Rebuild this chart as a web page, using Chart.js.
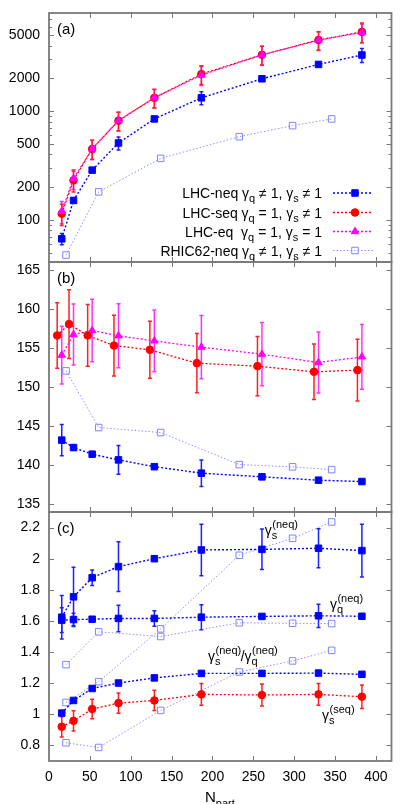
<!DOCTYPE html>
<html><head><meta charset="utf-8">
<script src="https://cdn.jsdelivr.net/npm/chart.js@4.4.1/dist/chart.umd.min.js"></script>
<style>
html,body{margin:0;padding:0;background:#fff;}
#wrap{position:relative;width:415px;height:804px;overflow:hidden;background:#fff;}
canvas{position:absolute;left:0;}
</style></head><body>
<div id="wrap">
<canvas id="cA" width="415" height="270" style="top:0px"></canvas>
<canvas id="cB" width="415" height="265" style="top:255px"></canvas>
<canvas id="cC" width="415" height="299" style="top:505px"></canvas>
</div>
<script>
// ---------- data ----------
const npartLHC     = [15.6, 30.0, 52.8, 85.0, 128.9, 186.4, 260.5, 329.7, 382.8];
const npartLHCseqB = [10.0, 24.5, 47.3, 79.5, 123.4, 180.9, 255.0, 324.2, 377.3];
const npartRHIC    = [20.8, 60.8, 136.6, 232.8, 298.0, 345.8];

// panel (a)
const neqA    = [67, 151, 287, 510, 849, 1327, 1986, 2692, 3288];
const errNeqA = [8, 0, 0, 70, 0, 180, 0, 0, 480];
const seqA    = [114, 231, 449, 818, 1327, 2193, 3303, 4515, 5360];
const errSeqA = [25, 50, 90, 160, 260, 430, 650, 870, 1100];
const eqA     = [120, 240, 450, 820, 1330, 2150, 3300, 4500, 5300];
const errEqA  = [28, 50, 90, 160, 260, 430, 650, 880, 1050];
const rhicA   = [47.5, 181, 368, 583, 736, 849];

// panel (b)
const neqB    = [143.2, 142.25, 141.4, 140.67, 139.8, 138.97, 138.5, 138.07, 137.9];
const errNeqB = [2.0, 0.3, 0, 1.85, 0, 1.7, 0, 0, 0];
const seqB    = [156.6, 158.05, 156.6, 155.3, 154.76, 153.05, 152.67, 151.94, 152.16];
const errSeqB = [4.2, 4.4, 3.95, 3.9, 3.65, 3.8, 3.8, 3.55, 3.95];
const eqB     = [154.08, 156.72, 157.23, 156.55, 155.9, 155.1, 154.2, 153.13, 153.86];
const errEqB  = [3.7, 3.9, 4.0, 4.1, 3.95, 4.05, 4.05, 3.9, 4.15];
const rhicB   = [152.07, 144.81, 144.17, 140.07, 139.78, 139.43];

// panel (c)
const gsNeqC     = [1.624, 1.755, 1.878, 1.949, 2.0, 2.056, 2.06, 2.067, 2.052];
const errGsNeqC  = [0.14, 0.19, 0.05, 0.16, 0, 0.165, 0.13, 0.125, 0.17];
const gqNeqC     = [1.605, 1.609, 1.611, 1.616, 1.616, 1.624, 1.629, 1.633, 1.63];
const errGqNeqC  = [0.08, 0.04, 0, 0.085, 0.05, 0.08, 0, 0.075, 0];
const ratioNeqC  = [1.008, 1.089, 1.166, 1.201, 1.234, 1.263, 1.263, 1.265, 1.257];
const gsSeqC     = [0.920, 0.958, 1.034, 1.072, 1.089, 1.128, 1.124, 1.128, 1.113];
const errGsSeqC  = [0.065, 0.065, 0.062, 0.065, 0.065, 0.07, 0.07, 0.07, 0.075];
const gsRhicC    = [1.076, 1.21, 1.549, 2.022, 2.131, 2.236];
const gqRhicC    = [1.319, 1.53, 1.50, 1.588, 1.585, 1.583];
const ratioRhicC = [0.817, 0.787, 1.025, 1.272, 1.343, 1.411];

// ticks
const xTicks  = [0, 50, 100, 150, 200, 250, 300, 350, 400];
const yTicksA = [100, 200, 500, 1000, 2000, 5000];
const yMinorA = [50,60,70,80,90,300,400,600,700,800,900,3000,4000,6000,7000,8000];
const yTicksB = [135, 140, 145, 150, 155, 160, 165];
const yTicksC = [0.8, 1.0, 1.2, 1.4, 1.6, 1.8, 2.0, 2.2];

const legendRows = [
  ['LHC-neq γ','q',' ≠ 1, γ','s',' ≠ 1'],
  ['LHC-seq γ','q',' = 1, γ','s',' ≠ 1'],
  ['LHC-eq  γ','q',' = 1, γ','s',' = 1'],
  ['RHIC62-neq γ','q',' ≠ 1, γ','s',' ≠ 1']
];

// ---------- styles ----------
const FONT = '"Liberation Sans", Arial, Helvetica, sans-serif';
const ST = {
  neq:  {color:'#0000ff', err:'#2020ff', style:'rect', r:4.6, fill:'#0000ff', lw:1.4, dash:[2,2]},
  seq:  {color:'#ff0000', err:'#ff2020', style:'circle', r:3.8, fill:'#ff0000', lw:1.3, dash:[2,2]},
  eq:   {color:'#ff00ff', err:'#ff30ff', style:'triangle', r:4.3, fill:'#ff00ff', lw:1.3, dash:[2,2]},
  rhic: {color:'#8484ff', err:'#8484ff', style:'rect', r:4.6, fill:'rgba(0,0,0,0)', lw:0.9, dash:[1.5,2]}
};
function pts(xs, ys){ return ys.map((y,i)=>({x:xs[i], y:y})); }
function ds(label, xs, ys, st, errs){
  return {label, data:pts(xs,ys), errors:errs||null, errColor:st.err,
    borderColor:st.color, backgroundColor:st.fill, pointBackgroundColor:st.fill,
    pointBorderColor:st.color, pointStyle:st.style, pointRadius:st.r, pointBorderWidth:1,
    borderWidth:st.lw, borderDash:st.dash, tension:0, fill:false, clip:false};
}

// ---------- plugins ----------
const errPlugin = {
  id:'errbars',
  beforeDatasetsDraw(chart){
    const ctx=chart.ctx, xs=chart.scales.x, ys=chart.scales.y;
    chart.data.datasets.forEach(d=>{
      if(!d.errors) return;
      ctx.save(); ctx.strokeStyle=d.errColor; ctx.lineWidth=1.5; ctx.setLineDash([]);
      d.data.forEach((p,j)=>{
        const e=d.errors[j]; if(!e) return;
        const x=xs.getPixelForValue(p.x), y1=ys.getPixelForValue(p.y+e), y2=ys.getPixelForValue(p.y-e);
        ctx.beginPath();
        ctx.moveTo(x,y1); ctx.lineTo(x,y2);
        ctx.moveTo(x-2,y1); ctx.lineTo(x+2,y1);
        ctx.moveTo(x-2,y2); ctx.lineTo(x+2,y2);
        ctx.stroke();
      });
      ctx.restore();
    });
  }
};

function drawRich(ctx, segs, x, y, align){
  const big='14px '+FONT, small='11px '+FONT;
  let w=0;
  segs.forEach((s,i)=>{ ctx.font = (i%2===0)?big:small; w+=ctx.measureText(s).width; });
  let cx = align==='right' ? x-w : x;
  ctx.textAlign='left'; ctx.textBaseline='alphabetic';
  segs.forEach((s,i)=>{
    ctx.font = (i%2===0)?big:small;
    ctx.fillText(s, cx, (i%2===0)? y : y+4);
    cx += ctx.measureText(s).width;
  });
}
function gammaLabel(ctx, x, y, sub, sup){
  ctx.font='14px '+FONT; ctx.textAlign='left'; ctx.textBaseline='alphabetic';
  ctx.fillText('γ', x, y);
  const gw=ctx.measureText('γ').width;
  ctx.font='11px '+FONT;
  ctx.fillText(sub, x+gw, y+4);
  ctx.fillText(sup, x+gw+0.5, y-7);
  return gw + Math.max(ctx.measureText(sub).width, ctx.measureText(sup).width);
}
function marker(ctx, st, x, y){
  ctx.save(); ctx.setLineDash([]); ctx.lineWidth=1; ctx.strokeStyle=st.color; ctx.fillStyle=st.fill;
  ctx.beginPath();
  if(st.style==='rect'){ const s=st.r*Math.SQRT1_2; ctx.rect(x-s,y-s,2*s,2*s); }
  else if(st.style==='circle'){ ctx.arc(x,y,st.r,0,Math.PI*2); }
  else { const r=st.r; ctx.moveTo(x,y-r); ctx.lineTo(x+r*0.866,y+r*0.5); ctx.lineTo(x-r*0.866,y+r*0.5); ctx.closePath(); }
  ctx.fill(); ctx.stroke(); ctx.restore();
}

const framePlugin = {
  id:'frame',
  afterDraw(chart, args, opts){
    const ctx=chart.ctx, a=chart.chartArea, xs=chart.scales.x, ys=chart.scales.y;
    ctx.save();
    ctx.strokeStyle='#777'; ctx.lineWidth=1; ctx.setLineDash([]);
    ctx.beginPath();
    xTicks.forEach(v=>{ if(v<=0) return; const x=Math.round(xs.getPixelForValue(v))+0.5;
      ctx.moveTo(x,a.bottom); ctx.lineTo(x,a.bottom-5); ctx.moveTo(x,a.top); ctx.lineTo(x,a.top+5); });
    (opts.yTicks||[]).forEach(v=>{ const y=Math.round(ys.getPixelForValue(v))+0.5;
      ctx.moveTo(a.left,y); ctx.lineTo(a.left+5,y); ctx.moveTo(a.right,y); ctx.lineTo(a.right-5,y); });
    (opts.yMinor||[]).forEach(v=>{ const y=Math.round(ys.getPixelForValue(v))+0.5;
      ctx.moveTo(a.left,y); ctx.lineTo(a.left+3,y); ctx.moveTo(a.right,y); ctx.lineTo(a.right-3,y); });
    ctx.stroke();
    ctx.strokeStyle='#7a7a7a'; ctx.lineWidth=1.8;
    ctx.strokeRect(a.left, a.top, a.right-a.left, a.bottom-a.top);
    ctx.fillStyle='#000'; ctx.font='15px '+FONT; ctx.textAlign='left'; ctx.textBaseline='middle';
    ctx.fillText(opts.label, a.left+8, a.top+17);
    if(opts.legend){
      const rows=[ST.neq, ST.seq, ST.eq, ST.rhic];
      const rowY=[193, 212.5, 231.5, 250.5];
      rows.forEach((st,i)=>{
        const yc=rowY[i];
        ctx.fillStyle='#000';
        drawRich(ctx, legendRows[i], 322, yc+5, 'right');
        ctx.save(); ctx.strokeStyle=st.color; ctx.lineWidth=st.lw; ctx.setLineDash(st.dash);
        ctx.beginPath(); ctx.moveTo(333,yc); ctx.lineTo(373,yc); ctx.stroke(); ctx.restore();
        marker(ctx, st, 355, yc);
      });
    }
    if(opts.gammaLabels){
      ctx.fillStyle='#000';
      opts.gammaLabels.forEach(g=>{
        const x=xs.getPixelForValue(g.n), y=ys.getPixelForValue(g.v);
        if(g.ratio){
          let w=gammaLabel(ctx, x, y, 's', '(neq)');
          ctx.font='14px '+FONT; ctx.fillText('/', x+w, y);
          const sw=ctx.measureText('/').width;
          gammaLabel(ctx, x+w+sw, y, 'q', '(neq)');
        } else gammaLabel(ctx, x, y, g.sub, g.sup);
      });
    }
    if(opts.xTitle){
      ctx.fillStyle='#000'; ctx.textAlign='left'; ctx.textBaseline='alphabetic';
      ctx.font='15px '+FONT; ctx.fillText('N', 205, chart.height-2);
      const nw=ctx.measureText('N').width;
      ctx.font='11px '+FONT; ctx.fillText('part', 205+nw, chart.height+3);
    }
    ctx.restore();
  }
};

function yAxis(type, min, max, ticks, fmt){
  return {type, min, max, position:'left',
    grid:{display:false, drawTicks:false}, border:{display:false},
    afterBuildTicks:(s)=>{ s.ticks = ticks.map(v=>({value:v})); },
    afterFit:(s)=>{ s.width=49; s.paddingTop=0; s.paddingBottom=0; },
    ticks:{padding:9, color:'#000', font:{family:FONT, size:14}, callback:fmt, autoSkip:false}
  };
}
function xAxis(show){
  return {type:'linear', min:0, max:419, display:show,
    grid:{display:false, drawTicks:false}, border:{display:false},
    afterBuildTicks:(s)=>{ s.ticks = xTicks.map(v=>({value:v})); },
    afterFit:(s)=>{ if(show) s.height=43; s.paddingLeft=0; s.paddingRight=0; },
    ticks:{padding:8, color:'#000', font:{family:FONT, size:14}, maxRotation:0, autoSkip:false}
  };
}
function baseOpts(padTop, padBottom, yax, showX, frameOpts){
  return {responsive:false, animation:false, events:[],
    layout:{autoPadding:false, padding:{left:0, right:23.5, top:padTop, bottom:padBottom}},
    scales:{x:xAxis(showX), y:yax},
    plugins:{legend:{display:false}, tooltip:{enabled:false}, frame:frameOpts}
  };
}

// ---------- chart (a) ----------
new Chart(document.getElementById('cA'), {
  type:'line',
  data:{datasets:[
    ds('LHC-eq', npartLHC, eqA, ST.eq, errEqA),
    ds('LHC-seq', npartLHC, seqA, ST.seq, errSeqA),
    ds('LHC-neq', npartLHC, neqA, ST.neq, errNeqA),
    ds('RHIC62-neq', npartRHIC, rhicA, ST.rhic, null)
  ]},
  options: baseOpts(13, 8, yAxis('logarithmic', 41, 8000, yTicksA, v=>String(v)), false,
    {label:'(a)', yTicks:yTicksA, yMinor:yMinorA, legend:true}),
  plugins:[errPlugin, framePlugin]
});

// ---------- chart (b) ----------
new Chart(document.getElementById('cB'), {
  type:'line',
  data:{datasets:[
    ds('LHC-neq', npartLHC, neqB, ST.neq, errNeqB),
    ds('LHC-seq', npartLHCseqB, seqB, ST.seq, errSeqB),
    ds('LHC-eq', npartLHC, eqB, ST.eq, errEqB),
    ds('RHIC62-neq', npartRHIC, rhicB, ST.rhic, null)
  ]},
  options: baseOpts(7, 8, yAxis('linear', 134, 166, yTicksB, v=>String(v)), false,
    {label:'(b)', yTicks:yTicksB}),
  plugins:[errPlugin, framePlugin]
});

// ---------- chart (c) ----------
new Chart(document.getElementById('cC'), {
  type:'line',
  data:{datasets:[
    ds('gs-neq', npartLHC, gsNeqC, ST.neq, errGsNeqC),
    ds('gq-neq', npartLHC, gqNeqC, ST.neq, errGqNeqC),
    ds('ratio-neq', npartLHC, ratioNeqC, ST.neq, null),
    ds('gs-seq', npartLHC, gsSeqC, ST.seq, errGsSeqC),
    ds('gs-rhic', npartRHIC, gsRhicC, ST.rhic, null),
    ds('gq-rhic', npartRHIC, gqRhicC, ST.rhic, null),
    ds('ratio-rhic', npartRHIC, ratioRhicC, ST.rhic, null)
  ]},
  options: baseOpts(7, 0, yAxis('linear', 0.7, 2.3, yTicksC, v=>String(Math.round(v*10)/10)), true,
    {label:'(c)', yTicks:yTicksC, xTitle:true,
     gammaLabels:[
       {n:264, v:2.152, sub:'s', sup:'(neq)'},
       {n:343.7, v:1.677, sub:'q', sup:'(neq)'},
       {n:194.5, v:1.342, ratio:true},
       {n:334, v:0.963, sub:'s', sup:'(seq)'}
     ]}),
  plugins:[errPlugin, framePlugin]
});
</script>
</body></html>
